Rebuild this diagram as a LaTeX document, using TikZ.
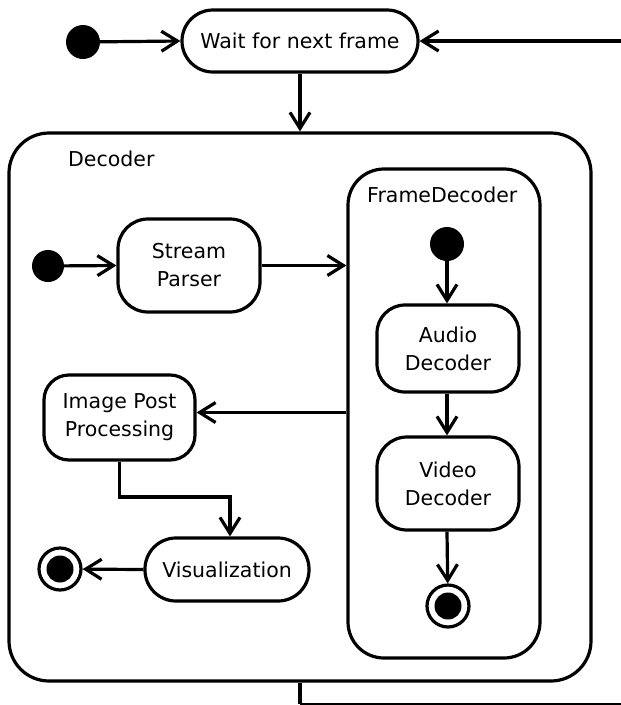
\documentclass[tikz,border=0pt]{standalone}
\usepackage{fontspec}
\setmainfont{DejaVu Sans}
\usetikzlibrary{arrows.meta}
\begin{document}
\begin{tikzpicture}[x=1pt,y=-1pt,
  every node/.style={font=\fontsize{20.5}{28}\selectfont},
  act/.style={draw,line width=3.2pt,align=center,inner sep=0pt},
  initdot/.style={circle,fill,inner sep=0pt,minimum size=34pt},
  finaldot/.style={circle,draw,line width=3.2pt,inner sep=0pt,minimum size=42pt,
    path picture={\fill (path picture bounding box.center) circle (13.5pt);}},
  flow/.style={line width=3.2pt,-{Straight Barb[length=16pt,width=20pt,line width=3.2pt]}},
  lbl/.style={inner sep=0pt,anchor=west}
]
\useasboundingbox (0,0) rectangle (621,705);
% outer
\node[act,minimum width=236pt,minimum height=62pt,rounded corners=31pt] (wait) at (300,41) {Wait for next frame};
\node[initdot] (i0) at (83,42) {};
\coordinate (loopin) at (621,41);
\coordinate (loopc) at (300,704);
\coordinate (loopout) at (621,704);
\node[act,minimum width=582pt,minimum height=548pt,rounded corners=40pt] (dec) at (300,407) {};
\node[lbl] (declbl) at (68,159) {Decoder};
% inside decoder
\node[initdot,minimum size=32pt] (i1) at (48,266) {};
\node[act,minimum width=142pt,minimum height=93pt,rounded corners=30pt] (sp) at (189,265.5) {Stream\\Parser};
\node[act,minimum width=192pt,minimum height=489pt,rounded corners=36pt] (fd) at (444,413.5) {};
\node[lbl] (fdlbl) at (367,195) {FrameDecoder};
\node[initdot] (i2) at (447,244) {};
\node[act,minimum width=142pt,minimum height=87pt,rounded corners=28pt] (ad) at (448,348.5) {Audio\\Decoder};
\node[act,minimum width=142pt,minimum height=93pt,rounded corners=30pt] (vd) at (448,483.5) {Video\\Decoder};
\node[finaldot] (f2) at (448,606) {};
\node[act,minimum width=151pt,minimum height=85pt,rounded corners=25pt] (ipp) at (119.5,417.5) {Image Post\\Processing};
\node[act,minimum width=164pt,minimum height=63pt,rounded corners=31pt] (vis) at (227,569.5) {Visualization};
\node[finaldot] (f1) at (60,569) {};
% connectors
\draw[flow] (i0) -- (wait.west);
\draw[flow] (loopin) -- (wait.east);
\draw[flow] (wait.south) -- (wait.south |- dec.north);
\draw[line width=3.2pt] (dec.south -| loopc) -- (loopc);
\draw[line width=2pt] (loopc) -- (loopout);
\draw[flow] (i1) -- (sp.west);
\draw[flow] (sp.east) -- (sp.east -| fd.west);
\draw[flow] (i2) -- (i2 |- ad.north);
\draw[flow] (ad.south -| i2) -- (vd.north -| i2);
\draw[flow] (vd.south -| i2) -- (f2);
\draw[flow] ([yshift=5pt]fd.west |- ipp.east) -- ([yshift=5pt]ipp.east);
\draw[flow] (ipp.south) |- (230,497) -- (230,497 |- vis.north);
\draw[flow] (vis.west) -- (f1);
\end{tikzpicture}
\end{document}
